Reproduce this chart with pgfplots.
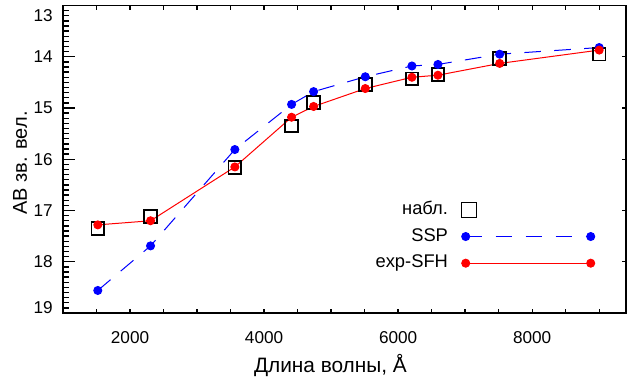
\documentclass[border=0pt]{standalone}
\usepackage{fontspec}
\setmainfont{Liberation Sans}
\usepackage{pgfplots}
\pgfplotsset{compat=1.18}
\usetikzlibrary{calc}
\pgfplotsset{
  linelegend/.style={legend image code/.code={\draw[##1] plot coordinates {(0pt,0pt) (75pt,0pt)};}},
  boxlegend/.style={legend image code/.code={\draw[black, line width=0.5pt] (-2.4pt,-4.5pt) rectangle (6.6pt,4.5pt);}},
  common/.style={
    width=337.8pt, height=184.5pt, scale only axis,
    xmin=1000, xmax=9400, ymin=13, ymax=19, y dir=reverse,
    axis line style={line width=0.9pt},
    every tick/.style={line width=0.8pt, black},
    /pgf/number format/assume math mode=true,
    tick label style={font=\fontsize{10.3}{12}\selectfont},
  }
}
\begin{document}
\begin{tikzpicture}
% frame ticks: x on both sides, y majors on right
\begin{axis}[common,
  xtick={1500,2000,...,9000},
  xticklabels={,2000,,,,4000,,,,6000,,,,8000,,},
  xtick pos=both,
  xticklabel style={anchor=center, yshift=-15pt, inner sep=0pt},
  major tick length=2.6pt,
  ytick={13,...,19}, ytick pos=right, yticklabels={},
]
\end{axis}
\begin{axis}[common, name=ax,
  xtick=\empty,
  ytick={13,...,19}, ytick pos=left,
  yticklabels={,14,15,16,17,18,},
  yticklabel style={anchor=east, inner sep=0pt, xshift=-6pt},
  minor y tick num=9,
  major tick length=7pt, minor tick length=3.5pt,
  xlabel={Длина волны, Å},
  ylabel={AB зв. вел.},
  xlabel style={font=\fontsize{12.5}{14}\selectfont, at={(axis description cs:0.475,-0.169)}, anchor=center},
  ylabel style={font=\fontsize{12}{14}\selectfont, at={(axis description cs:-0.0764,0.488)}, anchor=center},
  legend plot pos=right,
  legend cell align=right,
  legend style={draw=none, fill=none, at={(0.945,0.365)}, anchor=north east,
    inner sep=0pt, column sep=8pt, row sep=5.5pt,
    font=\fontsize{11}{13}\selectfont,
    nodes={inner sep=0pt, text height=8pt, text depth=2.5pt}},
]
\addplot[only marks, mark=square, mark size=3.8pt, line width=1.1pt, black, boxlegend]
  coordinates {
  (1519,17.35) (2306,17.12) (3564,16.16) (4410,15.35) (4739,14.89)
  (5510,14.54) (6206,14.43) (6594,14.35) (7515,14.03) (9000,13.95)};
\addlegendentry{набл.}
\addplot[blue, line width=0.6pt, dash pattern=on 10pt off 8pt, mark=*, mark size=2.4pt,
  mark options={solid, fill=blue}, linelegend]
  coordinates {
  (1519,18.56) (2306,17.69) (3564,15.81) (4410,14.93) (4739,14.68)
  (5510,14.39) (6206,14.18) (6594,14.15) (7515,13.95) (9000,13.82)};
\addlegendentry{SSP}
\addplot[red, line width=0.6pt, mark=*, mark size=2.4pt, mark options={fill=red}, linelegend]
  coordinates {
  (1519,17.28) (2306,17.20) (3564,16.15) (4410,15.18) (4739,14.97)
  (5510,14.62) (6206,14.40) (6594,14.36) (7515,14.13) (9000,13.87)};
\addlegendentry{exp-SFH}
\end{axis}
\node[anchor=east, inner sep=0pt, font=\fontsize{10.3}{12}\selectfont] at ($(ax.north west)+(-6pt,-6.3pt)$) {13};
\node[anchor=east, inner sep=0pt, font=\fontsize{10.3}{12}\selectfont] at ($(ax.south west)+(-6pt,3pt)$) {19};
\pgfresetboundingbox
\path ($(ax.south west)+(-37.8pt,-40.2pt)$) rectangle ($(ax.north east)+(0.6pt,3.3pt)$);
\end{tikzpicture}
\end{document}
